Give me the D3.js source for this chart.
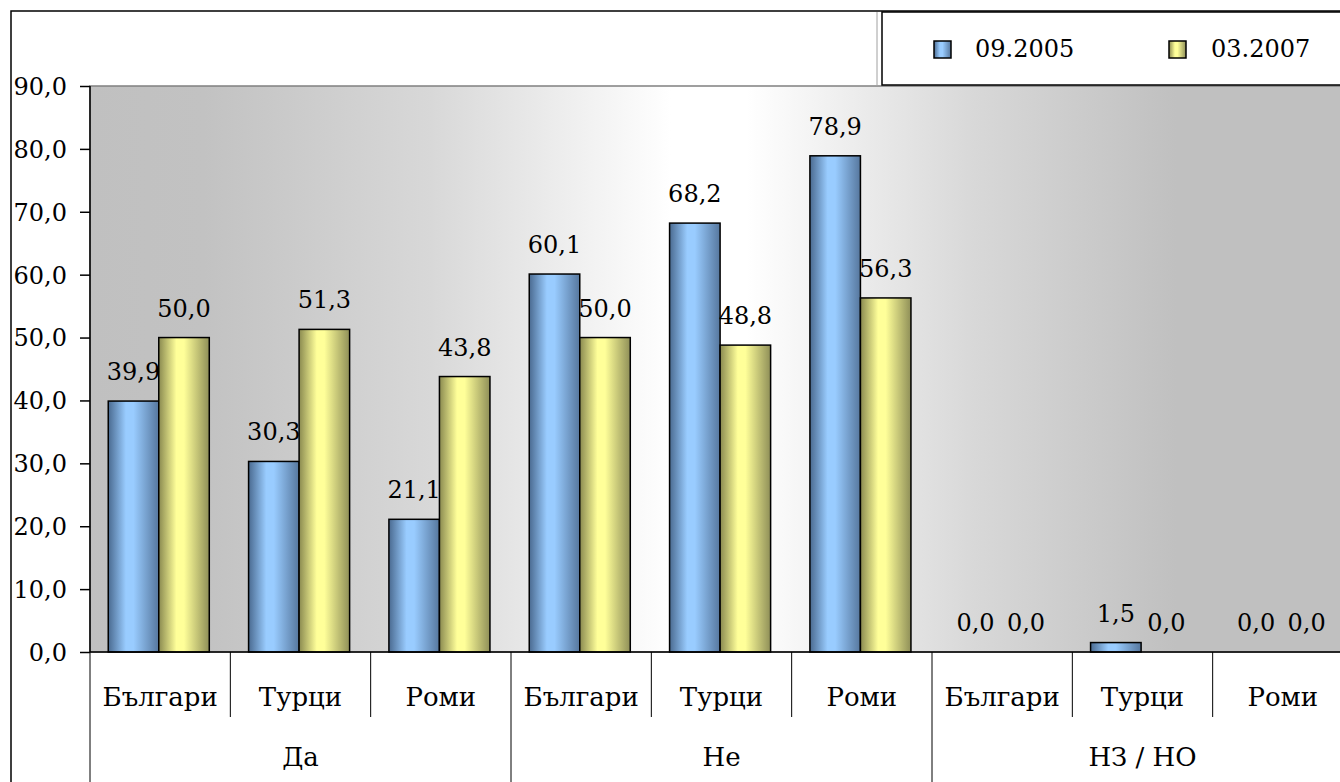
<!DOCTYPE html>
<html><head><meta charset="utf-8">
<script src="https://cdn.jsdelivr.net/npm/d3@7"></script>
<style>
html,body{margin:0;padding:0;background:#fff;overflow:hidden}
svg{display:block}
</style></head>
<body><svg id="c" width="1340" height="782"></svg>
<script>
const groups = ["Да", "Не", "НЗ / НО"];
const subcats = ["Българи", "Турци", "Роми"];
const seriesNames = ["09.2005", "03.2007"];
const values2005 = [39.9, 30.3, 21.1, 60.1, 68.2, 78.9, 0.0, 1.5, 0.0];
const values2007 = [50.0, 51.3, 43.8, 50.0, 48.8, 56.3, 0.0, 0.0, 0.0];
const yTicks = [0, 10, 20, 30, 40, 50, 60, 70, 80, 90];

const FONT = "'DejaVu Serif', serif";
const cats = [];
groups.forEach((g, gi) => subcats.forEach((s, si) => cats.push({id: gi * 3 + si, group: g, sub: s})));
const rows = cats.map((c, i) => ({...c, vals: [values2005[i], values2007[i]]}));

const svg = d3.select("#c");
const L = 90, R = 1353, T = 86, B = 652;
const FS = 24, FSL = 26;

const x = d3.scaleBand().domain(cats.map(c => c.id)).range([L, R]).padding(0);
const bw = x.bandwidth();
const x1 = d3.scaleBand().domain([0, 1]).range([bw * 0.13, bw * 0.85]).padding(0);
const y = d3.scaleLinear().domain([0, 90]).range([B, T]);

const defs = svg.append("defs");
const bg = defs.append("linearGradient").attr("id", "bg").attr("gradientUnits", "userSpaceOnUse")
  .attr("x1", L).attr("x2", R).attr("y1", 0).attr("y2", 0);
[[0, "#c0c0c0"], [0.09, "#c2c2c2"], [0.27, "#d8d8d8"], [0.46, "#ffffff"], [0.52, "#ffffff"],
 [0.70, "#d8d8d8"], [0.86, "#c0c0c0"], [1, "#c0c0c0"]].forEach(([o, c]) =>
  bg.append("stop").attr("offset", o).attr("stop-color", c));

const pal = [
  {id: "gb", dark: "#4a6a90", light: "#99ccff", right: "#56779e"},
  {id: "gy", dark: "#8a8a50", light: "#ffff99", right: "#8f8f58"}
];
pal.forEach(p => {
  const g = defs.append("linearGradient").attr("id", p.id).attr("x1", 0).attr("x2", 1).attr("y1", 0).attr("y2", 0);
  g.append("stop").attr("offset", 0).attr("stop-color", p.dark);
  g.append("stop").attr("offset", 0.35).attr("stop-color", p.light);
  g.append("stop").attr("offset", 0.5).attr("stop-color", p.light);
  g.append("stop").attr("offset", 1).attr("stop-color", p.right);
});

// outer border
svg.append("rect").attr("x", 11).attr("y", 11).attr("width", 1400).attr("height", 900)
  .attr("fill", "none").attr("stroke", "#000").attr("stroke-width", 1.5);

// plot area
svg.append("rect").attr("x", L).attr("y", T).attr("width", R - L).attr("height", B - T)
  .attr("fill", "url(#bg)").attr("stroke", "#808080").attr("stroke-width", 1.5);

// bars
const cg = svg.append("g").selectAll("g").data(rows).join("g")
  .attr("transform", d => `translate(${x(d.id)},0)`);
cg.selectAll("rect").data(d => d.vals.map((v, i) => ({v, i}))).join("rect")
  .filter(d => d.v > 0)
  .attr("x", d => x1(d.i)).attr("width", x1.bandwidth())
  .attr("y", d => y(d.v)).attr("height", d => y(0) - y(d.v))
  .attr("fill", d => `url(#${pal[d.i].id})`).attr("stroke", "#000").attr("stroke-width", 1.5);
const fmt = v => d3.format(".1f")(v).replace(".", ",");
cg.selectAll("text").data(d => d.vals.map((v, i) => ({v, i}))).join("text")
  .attr("x", d => x1(d.i) + x1.bandwidth() / 2).attr("y", d => y(d.v) - 21)
  .attr("text-anchor", "middle").style("font-family", FONT).style("font-size", FS + "px").text(d => fmt(d.v));

// y axis
const ya = svg.append("g").attr("transform", `translate(${L},0)`)
  .call(d3.axisLeft(y).tickValues(yTicks).tickSize(10).tickPadding(5).tickFormat(fmt));
ya.select(".domain").attr("stroke", "#000").attr("stroke-width", 1.5).attr("d", `M0,${T}V${B}`);
ya.selectAll(".tick line").attr("stroke", "#000").attr("stroke-width", 1.5);
ya.selectAll(".tick text").style("font-family", FONT).style("font-size", FS + "px")
  .attr("fill", "#000").attr("dy", "0.35em").attr("x", -23).attr("text-anchor", "end");

// x axis line
svg.append("line").attr("x1", L).attr("x2", R).attr("y1", B).attr("y2", B).attr("stroke", "#000").attr("stroke-width", 1.5);

// category separators
const sepG = svg.append("g");
cats.forEach(c => {
  const xx = x(c.id);
  sepG.append("line").attr("x1", xx).attr("x2", xx).attr("y1", B)
    .attr("y2", c.id % 3 === 0 ? 790 : 717).attr("stroke", "#000").attr("stroke-width", 1);
});
// subcategory labels
svg.append("g").selectAll("text").data(cats).join("text")
  .attr("x", d => x(d.id) + bw / 2).attr("y", 706).attr("text-anchor", "middle")
  .style("font-family", FONT).style("font-size", FSL + "px")
  .text(d => d.sub);
// group labels
svg.append("g").selectAll("text").data(groups).join("text")
  .attr("x", (d, i) => (x(i * 3) + x(i * 3 + 2) + bw) / 2).attr("y", 766).attr("text-anchor", "middle")
  .style("font-family", FONT).style("font-size", FSL + "px")
  .text(d => d);

// legend
const lg = svg.append("g");
lg.append("line").attr("x1", 877).attr("x2", 877).attr("y1", 12).attr("y2", 86)
  .attr("stroke", "#a0a0a0").attr("stroke-width", 1);
lg.append("rect").attr("x", 882).attr("y", 12).attr("width", 500).attr("height", 73)
  .attr("fill", "#fff").attr("stroke", "#000").attr("stroke-width", 1.5);
const legItems = [{x: 934, tx: 975}, {x: 1169, tx: 1211}];
seriesNames.forEach((n, i) => {
  lg.append("rect").attr("x", legItems[i].x).attr("y", 41).attr("width", 17).attr("height", 17)
    .attr("fill", `url(#${pal[i].id})`).attr("stroke", "#000").attr("stroke-width", 1.5);
  lg.append("text").attr("x", legItems[i].tx).attr("y", 57)
    .style("font-family", FONT).style("font-size", FS + "px").text(n);
});
</script></body></html>
